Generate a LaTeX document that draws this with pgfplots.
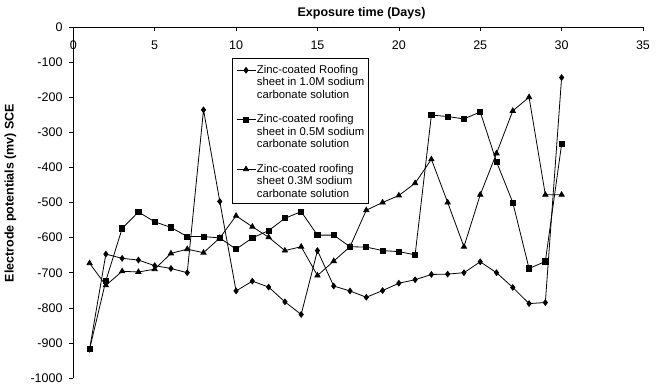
\documentclass[border=0pt]{standalone}
\usepackage{fontspec}
\setmainfont{Liberation Sans}
\usepackage{pgfplots}
\pgfplotsset{compat=1.18}
\begin{document}
\begin{tikzpicture}
\useasboundingbox (-73.3pt,-11pt) rectangle (590.7pt,378pt);
\begin{axis}[
  at={(0,0)}, anchor=south west,
  scale only axis, width=569.7pt, height=351pt,
  xmin=0, xmax=35, ymin=-1000, ymax=0,
  axis x line*=top, axis y line*=left,
  xtick={0,5,...,35}, ytick={-1000,-900,...,0},
  tick align=inside, major tick length=4pt,
  ytick style={xshift=-4pt},
  tick style={black, line width=0.6pt},
  axis line style={black, line width=0.8pt},
  ticklabel style={font=\fontsize{12.5}{14}\selectfont},
  xticklabel style={anchor=base, inner sep=0pt, yshift=-23pt},
  yticklabel style={anchor=east, inner sep=0pt, xshift=-10.6pt},
  /pgf/number format/assume math mode=true,
  /pgf/number format/1000 sep={},
  title={Exposure time (Days)},
  title style={at={(axis description cs:0.506,1)}, anchor=base, yshift=4.7pt, inner sep=0pt, font=\bfseries\fontsize{12.5}{14}\selectfont},
  ylabel={Electrode potentials (mv) SCE},
  ylabel style={at={(axis description cs:-0.1105,0.527)}, anchor=center, inner sep=0pt, font=\bfseries\fontsize{12.5}{14}\selectfont},
  legend style={at={(axis description cs:0.279,0.913)}, anchor=north west,
    draw=black, line width=0.8pt, fill=white, inner sep=3.5pt, row sep=10pt,
    font=\fontsize{11.3}{12.5}\selectfont,
    cells={anchor=base west, align=left}, nodes={inner sep=1pt}},
  legend image code/.code={\draw[mark repeat=2,mark phase=2,yshift=28.2pt] plot coordinates {(0pt,0pt) (9.5pt,0pt) (19pt,0pt)};},
]
\addplot[black, line width=0.8pt, mark=diamond*, mark size=2.8pt, mark options={solid, fill=black}] coordinates {
(1,-918) (2,-647) (3,-659) (4,-664) (5,-680) (6,-688) (7,-700) (8,-236) (9,-497) (10,-752)
(11,-724) (12,-741) (13,-783) (14,-819) (15,-637) (16,-738) (17,-752) (18,-770) (19,-751) (20,-730)
(21,-720) (22,-705) (23,-704) (24,-700) (25,-669) (26,-700) (27,-742) (28,-788) (29,-785) (30,-144)};
\addlegendentry{\rule{0pt}{11pt}Zinc-coated Roofing\\sheet in 1.0M sodium\\carbonate solution}
\addplot[black, line width=0.8pt, mark=square*, mark size=2.6pt, mark options={solid, fill=black}] coordinates {
(1,-918) (2,-723) (3,-574) (4,-527) (5,-555) (6,-571) (7,-597) (8,-597) (9,-601) (10,-633)
(11,-601) (12,-580) (13,-545) (14,-526) (15,-593) (16,-593) (17,-626) (18,-627) (19,-637) (20,-640)
(21,-649) (22,-251) (23,-255) (24,-262) (25,-242) (26,-384) (27,-500) (28,-688) (29,-668) (30,-334)};
\addlegendentry{\rule{0pt}{11pt}Zinc-coated roofing\\sheet in 0.5M sodium\\carbonate solution}
\addplot[black, line width=0.8pt, mark=triangle*, mark size=3pt, mark options={solid, fill=black}] coordinates {
(1,-673) (2,-736) (3,-696) (4,-698) (5,-690) (6,-645) (7,-633) (8,-643) (9,-601) (10,-538)
(11,-569) (12,-599) (13,-637) (14,-626) (15,-708) (16,-667) (17,-626) (18,-522) (19,-500) (20,-480)
(21,-445) (22,-377) (23,-500) (24,-626) (25,-478) (26,-360) (27,-239) (28,-200) (29,-478) (30,-478)};
\addlegendentry{\rule{0pt}{11pt}Zinc-coated roofing\\sheet 0.3M sodium\\carbonate solution}
\end{axis}
\end{tikzpicture}
\end{document}
